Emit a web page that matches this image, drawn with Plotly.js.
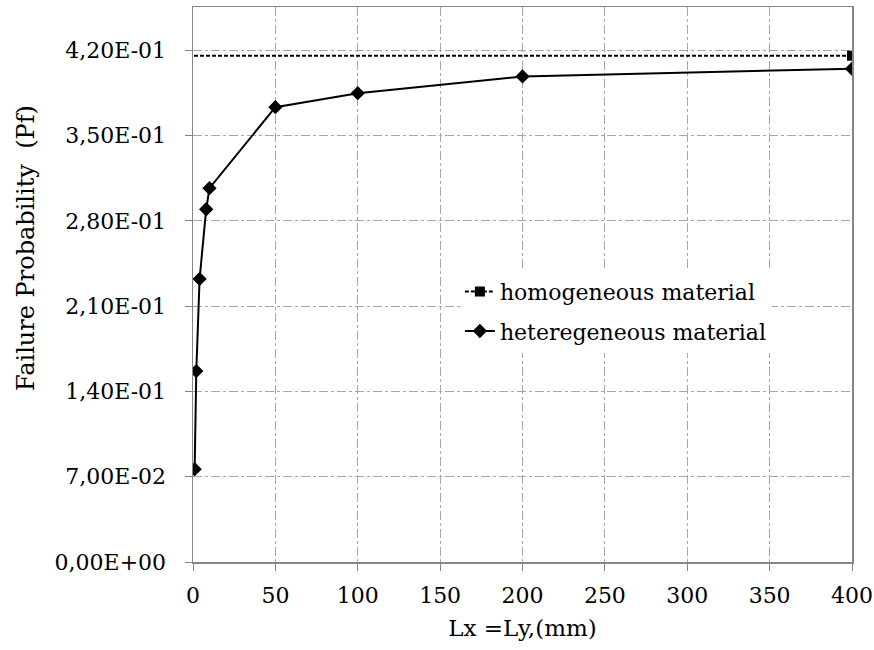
<!DOCTYPE html>
<html>
<head>
<meta charset="utf-8">
<script src="https://cdn.plot.ly/plotly-3.0.1.min.js"></script>
<style>html,body{margin:0;padding:0;background:#fff;}#chart{width:874px;height:650px;}</style>
</head>
<body>
<div id="chart"></div>
<script>
// Data
const seriesNames = ['homogeneous material', 'heteregeneous material'];
const xHetero = [1, 2, 4, 8, 10, 50, 100, 200, 400];
const yHetero = [0.0762, 0.1567, 0.2323, 0.2895, 0.3068, 0.3733, 0.3848, 0.3985, 0.4048];
const xHomo = [400, 0];
const yHomo = [0.4155, 0.4155];
const xTickVals = [0, 50, 100, 150, 200, 250, 300, 350, 400];
const xTickText = ['0', '50', '100', '150', '200', '250', '300', '350', '400'];
const yTickVals = [0, 0.07, 0.14, 0.21, 0.28, 0.35, 0.42];
const yTickText = ['0,00E+00', '7,00E-02', '1,40E-01', '2,10E-01', '2,80E-01', '3,50E-01', '4,20E-01'];
const xTitle = 'Lx =Ly,(mm)';
const yTitle = 'Failure Probability&nbsp; (Pf)';

const FONT = 'DejaVu Serif';
const GRID = '#a6a6a6';
const AXIS = '#868686';
const FS = 22;

const traces = [
  {
    x: xHomo, y: yHomo, name: seriesNames[0], type: 'scatter', mode: 'lines+markers',
    legendgroup: 'g1',
    line: {color: '#000', width: 2, dash: '4px,2px'},
    marker: {symbol: 'square', size: 10, color: ['#000', 'rgba(0,0,0,0)'],
             line: {width: 0}}
  },
  {
    x: xHetero, y: yHetero, name: seriesNames[1], type: 'scatter', mode: 'lines+markers',
    legendgroup: 'g2',
    line: {color: '#000', width: 2},
    marker: {symbol: 'diamond', size: 11, color: '#000'}
  }
];

const layout = {
  width: 874, height: 650,
  margin: {l: 193, r: 22, t: 7, b: 88},
  paper_bgcolor: '#fff', plot_bgcolor: '#fff',
  font: {family: FONT, size: FS, color: '#000'},
  showlegend: true,
  legend: {
    x: 0.405, y: 0.525, xanchor: 'left', yanchor: 'top',
    bgcolor: '#fff', borderwidth: 0,
    font: {family: FONT, size: FS, color: '#000'},
    tracegroupgap: 8
  },
  xaxis: {
    range: [0, 400], tickvals: xTickVals, ticktext: xTickText,
    showgrid: true, gridcolor: GRID, griddash: 'dashdot', gridwidth: 1,
    showline: true, linecolor: AXIS, linewidth: 1.5, mirror: true,
    ticks: 'outside', ticklen: 7, tickcolor: AXIS, tickwidth: 1,
    zeroline: false, ticklabelstandoff: 6,
    tickfont: {family: FONT, size: FS, color: '#000'},
    title: {text: xTitle, font: {family: FONT, size: 23, color: '#000'}, standoff: 13}
  },
  yaxis: {
    range: [0, 0.4555], tickvals: yTickVals, ticktext: yTickText,
    showgrid: true, gridcolor: GRID, griddash: 'dashdot', gridwidth: 1,
    showline: true, linecolor: AXIS, linewidth: 1.5, mirror: true,
    ticks: 'outside', ticklen: 7, tickcolor: AXIS, tickwidth: 1,
    zeroline: false, ticklabelstandoff: 14,
    tickfont: {family: FONT, size: FS, color: '#000'}
  },
  annotations: [{
    text: yTitle, textangle: -90, showarrow: false,
    xref: 'paper', yref: 'paper', x: -0.2534, y: 0.566,
    xanchor: 'center', yanchor: 'middle',
    font: {family: FONT, size: 24, color: '#000'}
  }]
};

Plotly.newPlot('chart', traces, layout, {displayModeBar: false, staticPlot: true});
</script>
</body>
</html>
